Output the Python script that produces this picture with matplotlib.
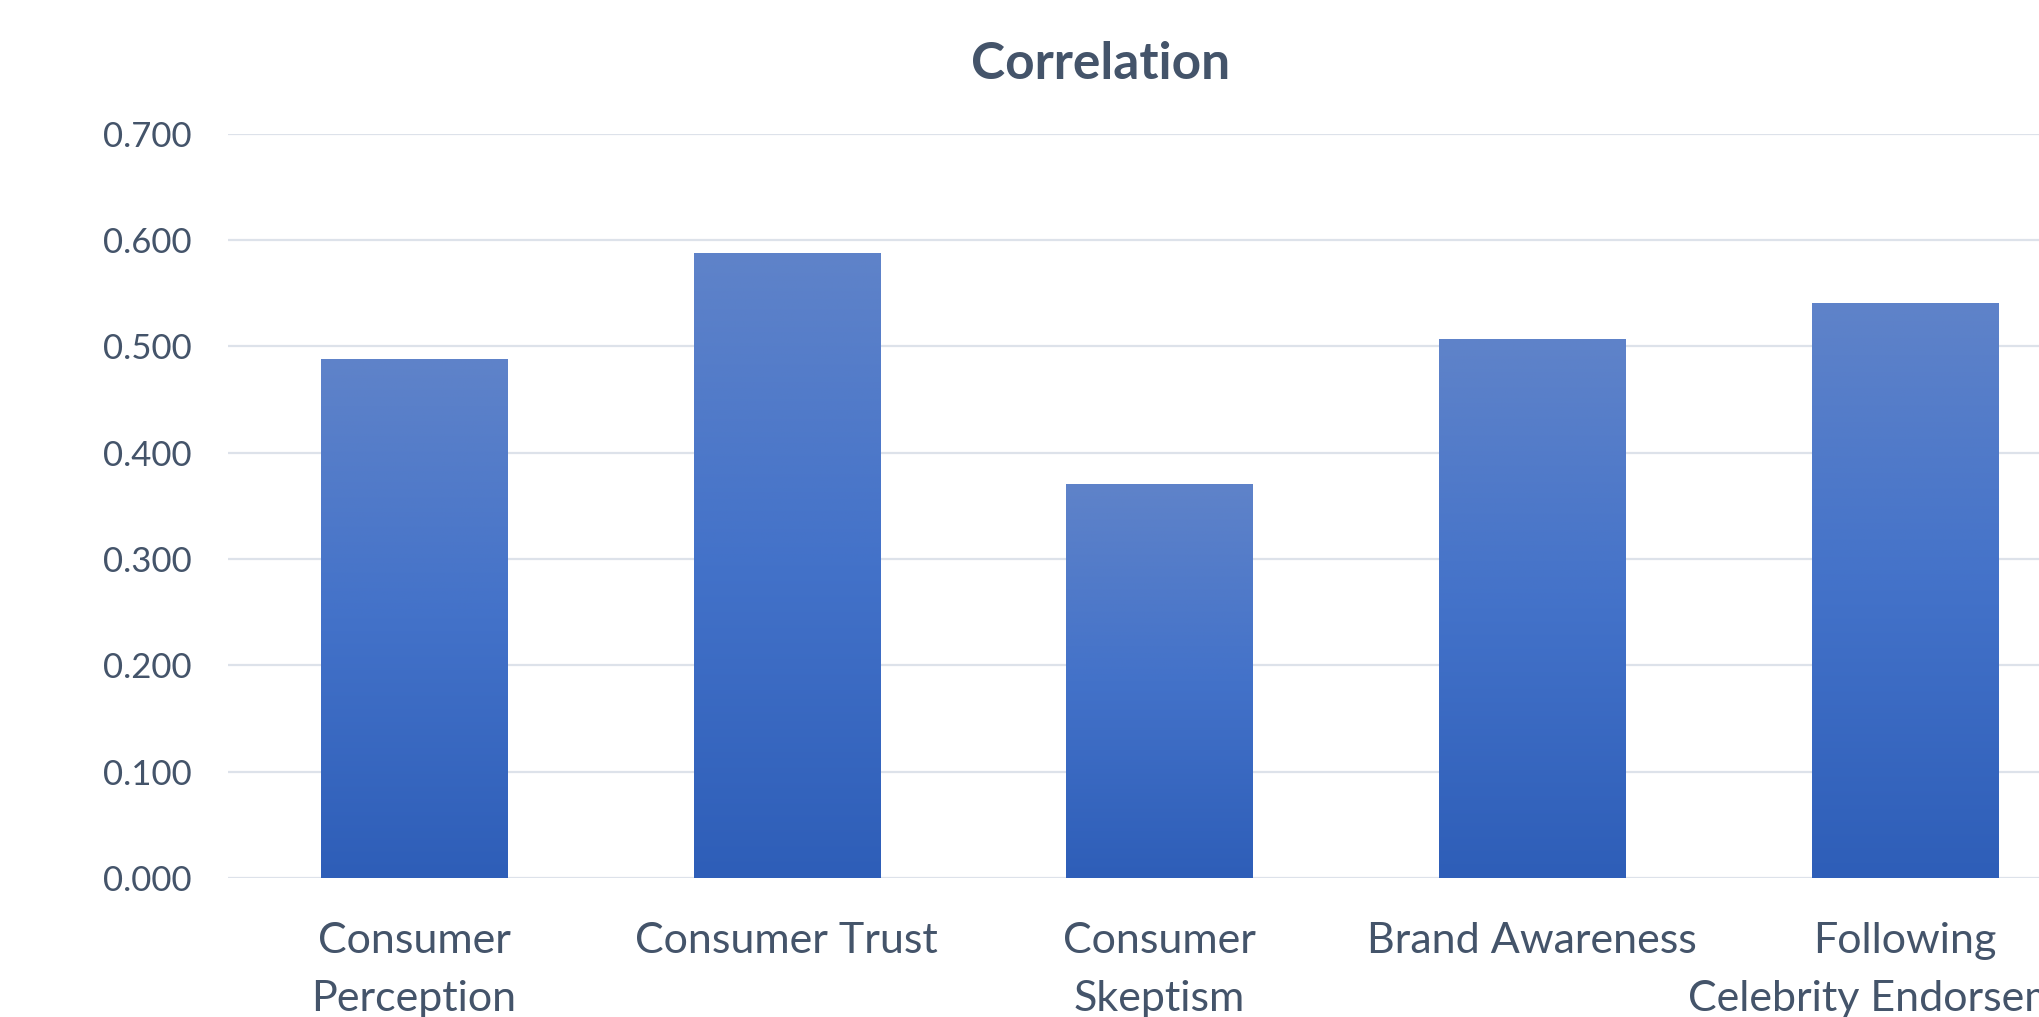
import numpy as np
import matplotlib
matplotlib.use("Agg")
from matplotlib import pyplot as plt
from matplotlib.colors import LinearSegmentedColormap

# Chart data
categories = ["Consumer\nPerception", "Consumer Trust", "Consumer\nSkeptism",
              "Brand Awareness", "Following\nCelebrity Endorsement"]
values = [0.488, 0.588, 0.370, 0.507, 0.541]
yticks = [0.0, 0.1, 0.2, 0.3, 0.4, 0.5, 0.6, 0.7]
title = "Correlation"

text_color = "#44546A"
grid_color = "#DDE2EA"

plt.rcParams["font.family"] = ["Lato", "DejaVu Sans"]

fig = plt.figure(figsize=(20.4, 10.17), dpi=100)
# plot area runs past the right edge, as in the reference crop
ax = fig.add_axes([0.1116, 0.1368, 0.9135, 0.7315])

bars = ax.bar(range(len(categories)), values, width=0.5, facecolor="none",
              edgecolor="none", zorder=3)

# vertical gradient fill for each bar (light top, darker bottom)
grad_cmap = LinearSegmentedColormap.from_list(
    "bar_grad", ["#2E5EB8", "#4372C9", "#5F83C9"])
grad = np.linspace(0, 1, 256).reshape(-1, 1)
for b in bars:
    x0, w, h = b.get_x(), b.get_width(), b.get_height()
    ax.imshow(grad, cmap=grad_cmap, aspect="auto", origin="lower",
              extent=[x0, x0 + w, 0, h], zorder=3, interpolation="bicubic")

ax.set_xlim(-0.5, len(categories) - 0.5)
ax.set_ylim(0, 0.7)
ax.set_yticks(yticks)
ax.set_yticklabels([f"{t:.3f}" for t in yticks])
ax.set_xticks(range(len(categories)))
ax.set_xticklabels(categories, linespacing=1.65)

ax.yaxis.grid(True, color=grid_color, linewidth=1.6, zorder=0)
ax.set_axisbelow(True)
for s in ax.spines.values():
    s.set_visible(False)
ax.tick_params(axis="both", length=0, colors=text_color)
ax.tick_params(axis="y", pad=26, labelsize=25)
ax.tick_params(axis="x", pad=32, labelsize=31)
for lbl in ax.get_xticklabels():
    lbl.set_verticalalignment("top")

fig.text(0.5395, 0.937, title, ha="center", va="center", fontsize=37,
         fontweight="bold", color=text_color)

fig.savefig("out.png", dpi=100)
